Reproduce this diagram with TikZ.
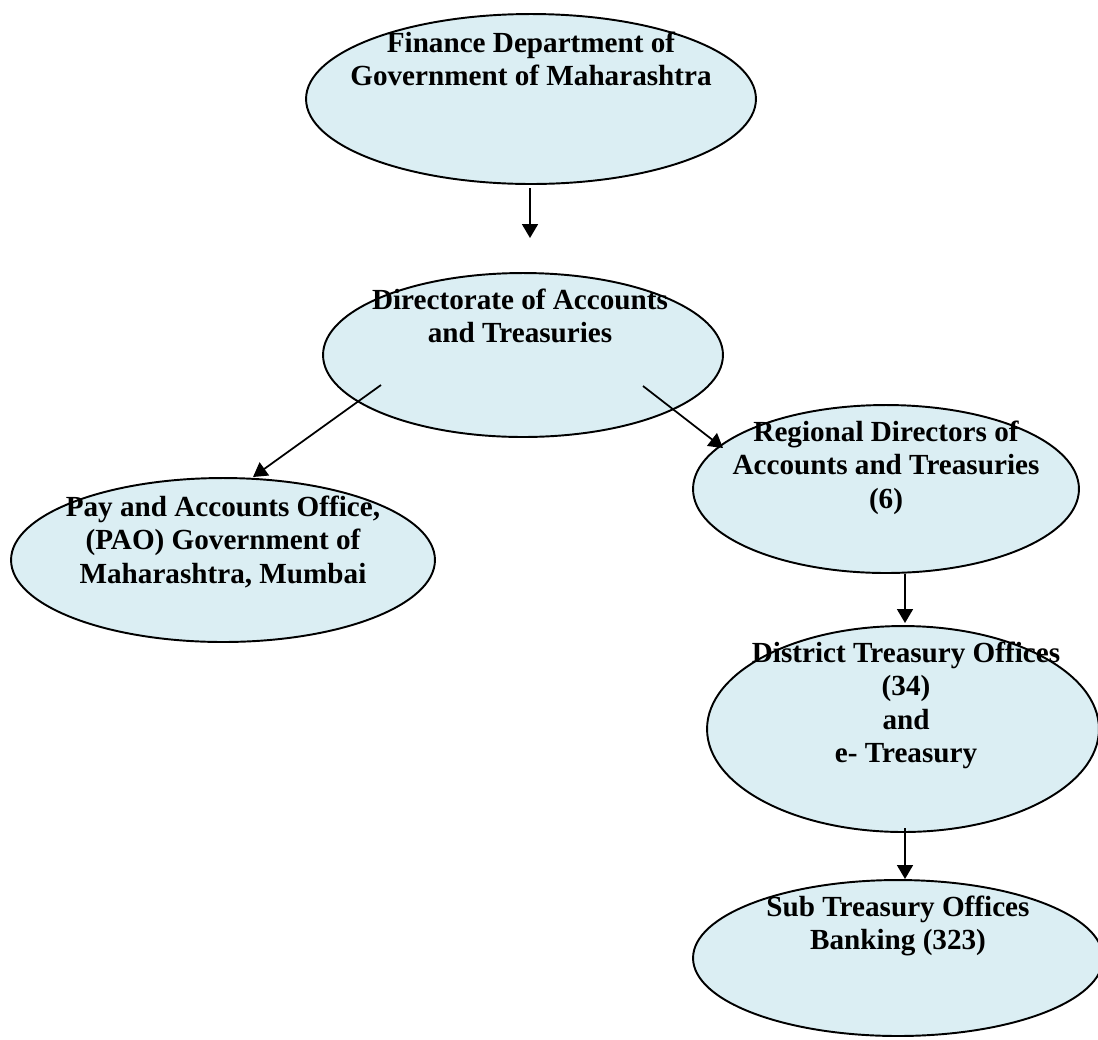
\documentclass[tikz,border=0pt]{standalone}
\usepackage{fontspec}
\setmainfont{Liberation Serif}
\usetikzlibrary{shapes.geometric,positioning,arrows.meta}
\definecolor{ovalblue}{RGB}{219,238,243}

\begin{document}
\begin{tikzpicture}[
x=0.02cm, y=-0.02cm,
oval/.style={
  draw,
  ellipse,
  fill=ovalblue,
  line width=1.1pt,
  inner sep=0pt
  },
txt/.style={
  align=center,
  inner sep=0pt,
  anchor=north,
  font=\bfseries\fontsize{16.6pt}{18.8pt}\selectfont
  },
>={Triangle[length=0.28cm,width=0.32cm]}
]
\useasboundingbox (0,0) rectangle (1098,1039);
% ovals
\node[oval, minimum width=9cm, minimum height=3.4cm] (fin) at (531,99) {};
\node[oval, minimum width=8cm, minimum height=3.28cm] (dat) at (523,355) {};
\node[oval, minimum width=8.48cm, minimum height=3.28cm] (pao) at (223,560) {};
\node[oval, minimum width=7.72cm, minimum height=3.36cm] (rdat) at (886,489) {};
\node[oval, minimum width=7.84cm, minimum height=4.12cm] (dto) at (903,729) {};
\node[oval, minimum width=8.2cm, minimum height=3.12cm] (sto) at (898,958) {};
% arrow ends
\coordinate (finA) at (530,188);
\coordinate (finB) at (530,238);
\coordinate (datL) at (381,385);
\coordinate (paoT) at (253,477);
\coordinate (datR) at (643,386);
\coordinate (rdatT) at (723,448);
\coordinate (rdatB) at (905,574);
\coordinate (dtoT) at (905,623);
\coordinate (dtoB) at (905,828);
\coordinate (stoT) at (905,879);
\draw[->, line width=1pt] (finA) -- (finB);
\draw[->, line width=1pt] (datL) -- (paoT);
\draw[->, line width=1pt] (datR) -- (rdatT);
\draw[->, line width=1pt] (rdatB) -- (dtoT);
\draw[->, line width=1pt] (dtoB) -- (stoT);
% texts
\node[txt, below=0.38cm of fin.north] (finT) {Finance Department of\\Government of Maharashtra};
\node[txt, below=0.34cm of dat.north, xshift=-0.06cm] (datT) {Directorate of Accounts\\and Treasuries};
\node[txt, below=0.38cm of pao.north] (paoTxt) {Pay and Accounts Office,\\(PAO) Government of\\Maharashtra, Mumbai};
\node[txt, below=0.34cm of rdat.north] (rdatTxt) {Regional Directors of\\Accounts and Treasuries\\(6)};
\node[txt, below=0.34cm of dto.north, xshift=0.06cm] (dtoTxt) {District Treasury Offices\\(34)\\and\\e- Treasury};
\node[txt, below=0.34cm of sto.north] (stoTxt) {Sub Treasury Offices\\Banking (323)};
\end{tikzpicture}
\end{document}
